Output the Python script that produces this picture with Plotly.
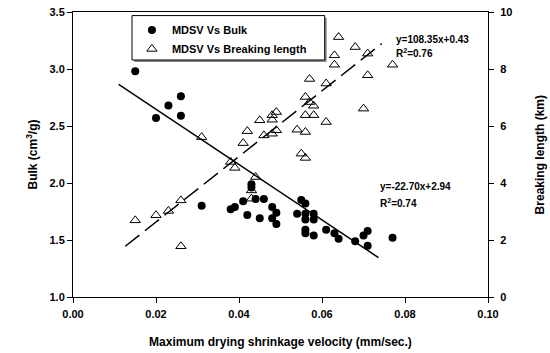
import plotly.graph_objects as go

# ---- data ----
bulk_x = [0.015, 0.020, 0.023, 0.026, 0.026, 0.031, 0.038, 0.039, 0.041, 0.043,
          0.043, 0.042, 0.044, 0.045, 0.046, 0.048, 0.049, 0.048, 0.049, 0.054,
          0.055, 0.056, 0.056, 0.058, 0.056, 0.058, 0.056, 0.056, 0.058, 0.061,
          0.063, 0.064, 0.068, 0.070, 0.071, 0.071, 0.077]
bulk_y = [2.98, 2.57, 2.68, 2.76, 2.59, 1.80, 1.77, 1.79, 1.84, 1.99,
          1.96, 1.72, 1.86, 1.69, 1.86, 1.79, 1.74, 1.69, 1.64, 1.73,
          1.85, 1.82, 1.73, 1.73, 1.68, 1.68, 1.59, 1.56, 1.54, 1.59,
          1.56, 1.51, 1.49, 1.54, 1.58, 1.45, 1.52]

brk_x = [0.015, 0.020, 0.023, 0.026, 0.026, 0.031, 0.038, 0.039, 0.041, 0.042,
         0.043, 0.043, 0.044, 0.045, 0.046, 0.048, 0.049, 0.048, 0.049, 0.048,
         0.054, 0.056, 0.055, 0.056, 0.056, 0.057, 0.058, 0.056, 0.058, 0.057,
         0.061, 0.061, 0.064, 0.068, 0.071, 0.063, 0.063, 0.077, 0.071, 0.070]
brk_y = [2.69, 2.87, 3.02, 3.39, 1.78, 5.61, 4.74, 4.53, 5.40, 5.82,
         3.45, 3.74, 4.21, 6.20, 5.67, 5.73, 5.85, 6.38, 6.49, 6.22,
         5.87, 5.79, 5.03, 4.88, 7.02, 6.84, 6.71, 6.38, 6.38, 7.65,
         7.49, 6.14, 9.12, 8.77, 8.54, 8.48, 8.15, 8.15, 7.78, 6.61]

# fitted lines as drawn (end points)
bulk_fit_x = [0.011, 0.0736]
bulk_fit_y = [2.866, 1.346]
brk_fit_x = [0.0126, 0.0744]
brk_fit_y = [1.78, 8.89]

bulk_eq = ["y=-22.70x+2.94", "R<sup>2</sup>=0.74"]
brk_eq = ["y=108.35x+0.43", "R<sup>2</sup>=0.76"]

FONT = "Liberation Sans, Arial, sans-serif"

fig = go.Figure()
fig.add_trace(go.Scatter(x=bulk_fit_x, y=bulk_fit_y, mode="lines",
                         line=dict(color="black", width=1.5), showlegend=False))
fig.add_trace(go.Scatter(x=brk_fit_x, y=brk_fit_y, mode="lines", yaxis="y2",
                         line=dict(color="black", width=1.5, dash="18px,7px"),
                         showlegend=False))
fig.add_trace(go.Scatter(x=bulk_x, y=bulk_y, mode="markers", name="MDSV Vs Bulk",
                         marker=dict(symbol="circle", size=8, color="black")))
fig.add_trace(go.Scatter(x=brk_x, y=brk_y, mode="markers", yaxis="y2",
                         name="MDSV Vs Breaking length",
                         marker=dict(symbol="triangle-up-open", size=9, color="black",
                                     line=dict(width=1))))

axcommon = dict(showline=True, linecolor="black", linewidth=1, ticks="outside",
                ticklen=5, tickcolor="black", showgrid=False, zeroline=False,
                automargin=False,
                tickfont=dict(family=FONT, size=11, color="black", weight="bold"))

fig.update_layout(
    width=550, height=353,
    margin=dict(l=73, r=62, t=12, b=56),
    plot_bgcolor="white", paper_bgcolor="white",
    font=dict(family=FONT, color="black"),
    xaxis=dict(range=[0, 0.10], dtick=0.02, tickformat=".2f", mirror=True,
               ticklabelstandoff=2,
               title=dict(text="Maximum drying shrinkage velocity (mm/sec.)",
                          font=dict(family=FONT, size=12, weight="bold"), standoff=18),
               **axcommon),
    yaxis=dict(range=[1.0, 3.5], dtick=0.5, tickformat=".1f",
               title=dict(text="Bulk (cm<sup>3</sup>/g)",
                          font=dict(family=FONT, size=12, weight="bold"), standoff=9),
               **axcommon),
    yaxis2=dict(range=[0, 10], dtick=2, overlaying="y", side="right",
                ticklabelstandoff=4, **axcommon),
    legend=dict(x=0.142, y=0.988, xanchor="left", yanchor="top",
                bgcolor="rgba(0,0,0,0)", borderwidth=0,
                font=dict(family=FONT, size=11, color="black", weight="bold"),
                tracegroupgap=0),
    shapes=[
        dict(type="rect", xref="paper", yref="paper", layer="above",
             x0=0.1475, x1=0.6113, y0=0.8246, y1=0.9796,
             fillcolor="#8a8a8a", line=dict(width=0)),
        dict(type="rect", xref="paper", yref="paper", layer="above",
             x0=0.1422, x1=0.6065, y0=0.8316, y1=0.9874,
             fillcolor="white", line=dict(color="black", width=1)),
    ],
)

# right-axis title
fig.add_annotation(x=1.125, y=0.5, xref="paper", yref="paper",
                   text="Breaking length (km)", textangle=-90, showarrow=False,
                   xanchor="center", yanchor="middle",
                   font=dict(family=FONT, size=12, color="black", weight="bold"))

for i, t in enumerate(brk_eq):
    fig.add_annotation(x=0.0774, y=9.05 - i * 0.48, xref="x", yref="y2", text=t,
                       showarrow=False, xanchor="left", yanchor="middle",
                       font=dict(family=FONT, size=10, color="black", weight="bold"))
for i, t in enumerate(bulk_eq):
    fig.add_annotation(x=0.0736, y=1.965 - i * 0.137, xref="x", yref="y", text=t,
                       showarrow=False, xanchor="left", yanchor="middle",
                       font=dict(family=FONT, size=10, color="black", weight="bold"))

fig.write_html("out.html")
